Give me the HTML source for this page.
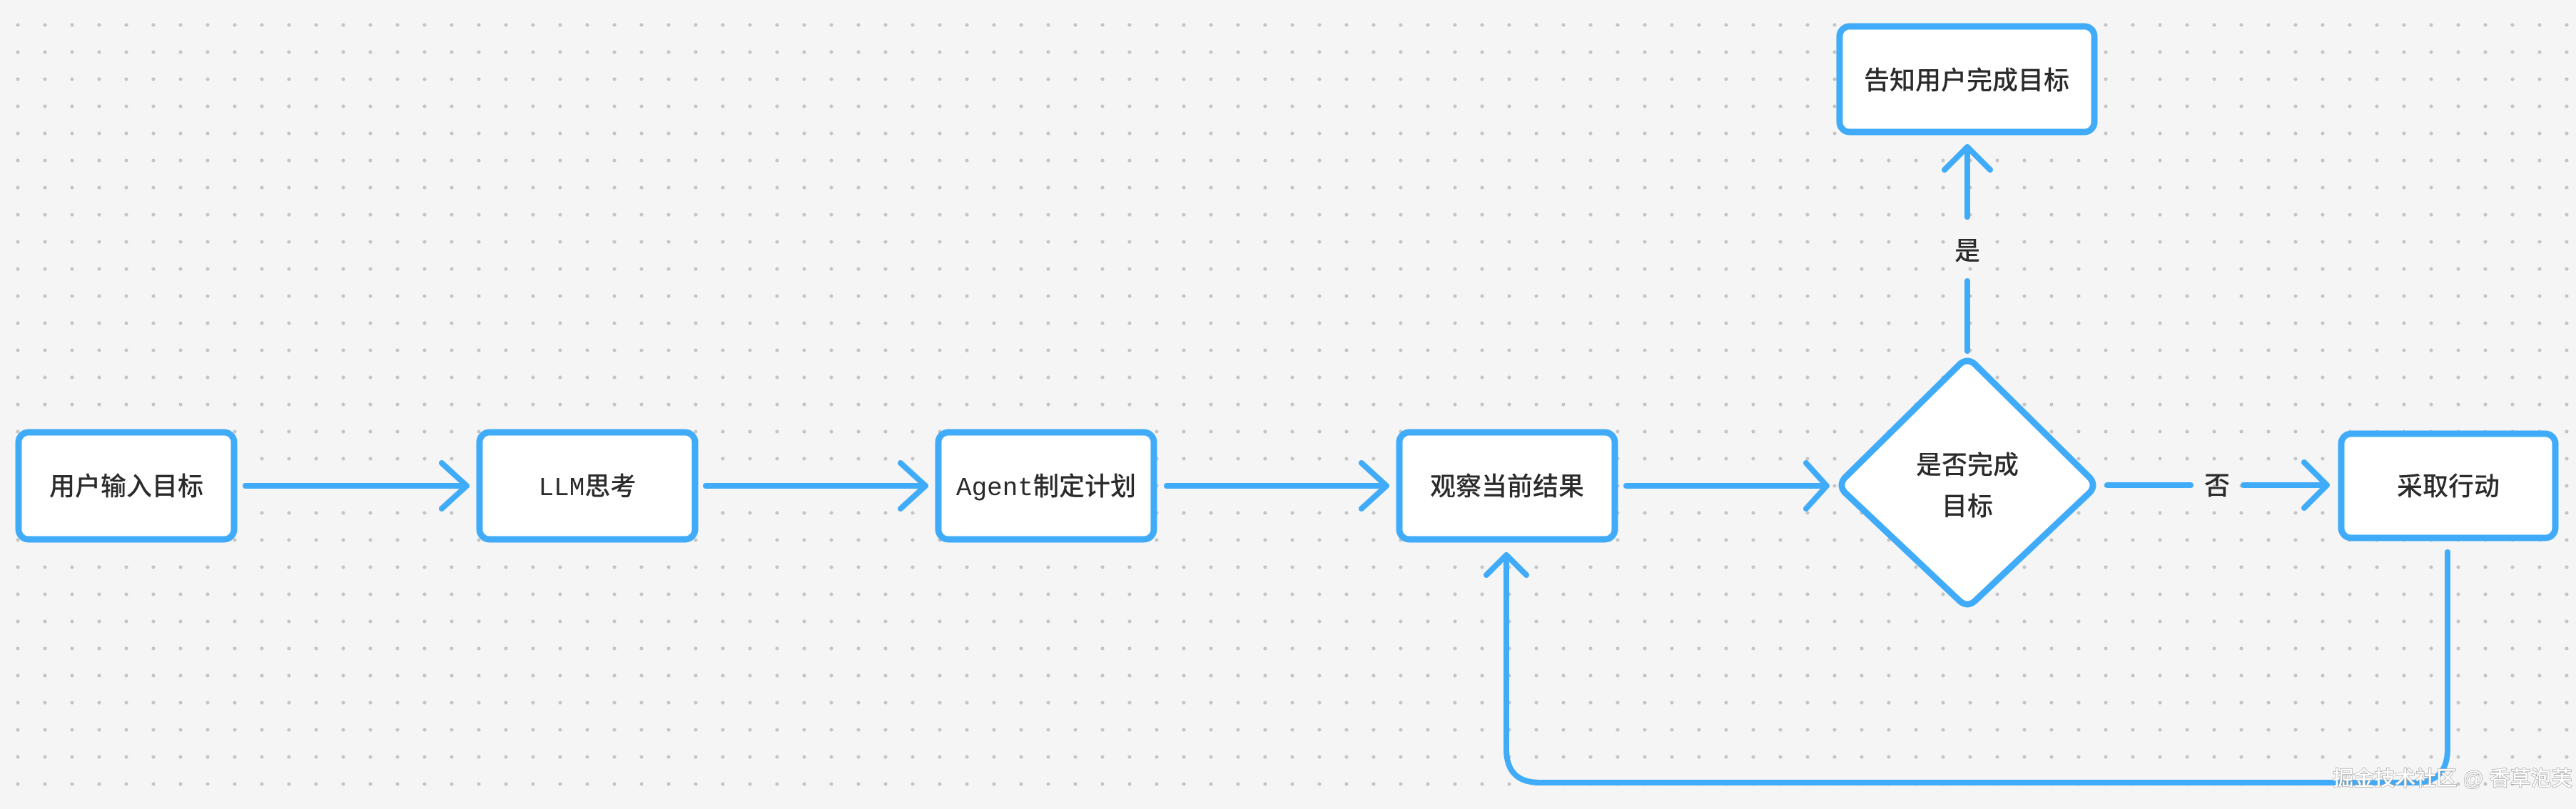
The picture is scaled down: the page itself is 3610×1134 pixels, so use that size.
<!DOCTYPE html>
<html><head><meta charset="utf-8"><style>
html,body{margin:0;padding:0;}
body{width:3610px;height:1134px;overflow:hidden;background-color:#f5f5f5;
background-image:radial-gradient(circle,#c4c4c4 2.2px,transparent 2.8px);
background-size:38px 38px;background-position:6px 16px;}
svg{position:absolute;left:0;top:0;}
text{font-family:"Liberation Sans","Noto Sans CJK SC",sans-serif;font-size:36px;fill:#2b2b2b;font-weight:500;}
</style></head><body>
<svg width="3610" height="1134" viewBox="0 0 3610 1134">
<g fill="#fff" stroke="#40abf8" stroke-width="9">
<rect x="26" y="606" width="302" height="150" rx="14"/>
<rect x="672" y="606" width="302" height="150" rx="14"/>
<rect x="1315" y="606" width="302" height="150" rx="14"/>
<rect x="1961" y="606" width="302" height="150" rx="14"/>
<rect x="2578" y="37" width="357" height="148" rx="14"/>
<rect x="3281" y="608" width="300" height="146" rx="14"/>
<path d="M2747 510 Q2757 502 2767 510 L2929 670 Q2937 680 2929 690 L2767 843 Q2757 851 2747 843 L2585 690 Q2577 680 2585 670 Z" stroke-linejoin="round"/>
</g>
<g fill="none" stroke="#40abf8" stroke-width="8" stroke-linecap="round" stroke-linejoin="round">
<path d="M344 681 H654 M619 649 L654 681 L619 713"/>
<path d="M989 681 H1297 M1262 649 L1297 681 L1262 713"/>
<path d="M1635 681 H1943 M1908 649 L1943 681 L1908 713"/>
<path d="M2279 681 H2557 M2531 649 L2560 681 L2531 713"/>
<path d="M2953 680 H3070 M3144 680 H3261 M3229 648 L3261 680 L3229 712"/>
<path d="M2757 492 V394 M2757 304 V206 M2725 238 L2757 206 L2789 238"/>
<path d="M3430 774 V1050 Q3430 1097 3383 1097 H2158 Q2111 1097 2111 1050 V778 M2083 806 L2111 778 L2139 806"/>
</g>
<g text-anchor="middle">
<text x="177" y="694">用户输入目标</text>
<text x="823" y="694"><tspan font-family="Liberation Mono">LLM</tspan>思考</text>
<text x="1466" y="694"><tspan font-family="Liberation Mono">Agent</tspan>制定计划</text>
<text x="2112" y="694">观察当前结果</text>
<text x="2756" y="125">告知用户完成目标</text>
<text x="3431" y="694">采取行动</text>
<text x="2757" y="664">是否完成</text>
<text x="2757" y="722">目标</text>
<text x="2757" y="364">是</text>
<text x="3107" y="693">否</text>
<text x="3437" y="1101" style="fill:#fff;font-size:29px;stroke:#9a9a9a;stroke-width:1.2px;paint-order:stroke">掘金技术社区 @ 香草泡芙</text>
</g>
</svg>
</body></html>
